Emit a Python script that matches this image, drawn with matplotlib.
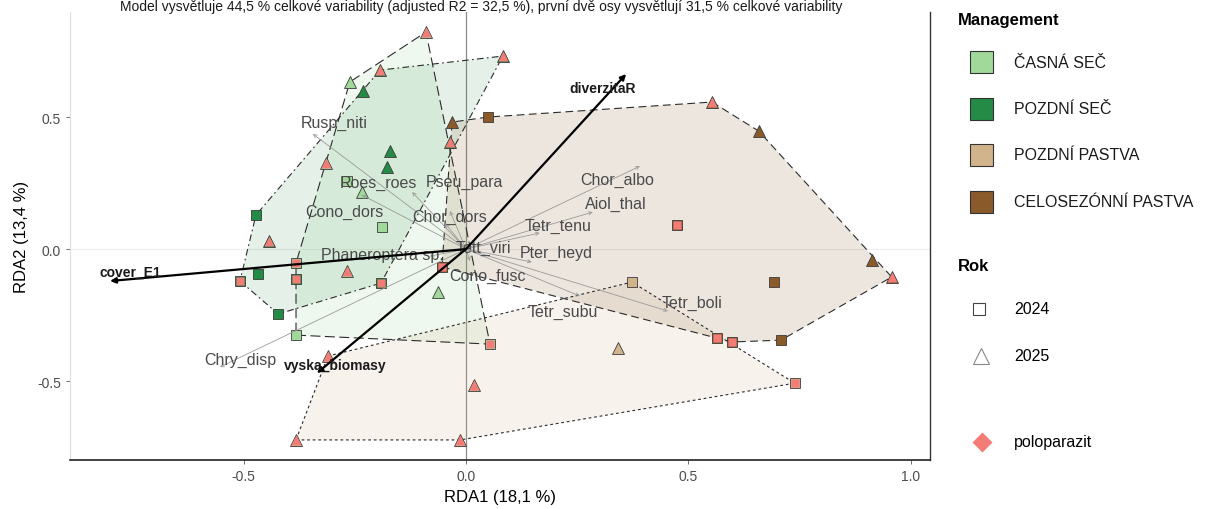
import numpy as np
import matplotlib
matplotlib.use("Agg")
import matplotlib.pyplot as plt
from matplotlib.patches import Polygon, Rectangle

plt.rcParams['font.family'] = ['Liberation Sans', 'DejaVu Sans']

# ---------------- data ----------------
title_text = ("Model vysvětluje 44,5 % celkové variability (adjusted R2 = 32,5 %), "
              "první dvě osy vysvětlují 31,5 % celkové variability")
x_label = "RDA1 (18,1 %)"
y_label = "RDA2 (13,4 %)"

mgmt_levels = ["ČASNÁ SEČ", "POZDNÍ SEČ", "POZDNÍ PASTVA", "CELOSEZÓNNÍ PASTVA"]
mgmt_colors = ["#a1d99b", "#238b45", "#d2b48c", "#8b5a2b"]
rok_levels = ["2024", "2025"]
polo_label = "poloparazit"
polo_color = "#f47c76"

site_x = [-0.090, 0.083, -0.193, -0.261, -0.231, -0.031, 0.049, -0.036, -0.315, -0.171,
          -0.178, -0.267, -0.234, -0.472, -0.189, -0.443, -0.382, -0.267, -0.467, -0.508,
          -0.382, -0.191, -0.054, -0.063, -0.422, -0.382, 0.054, -0.310, 0.018, -0.382,
          -0.013, 0.553, 0.658, 0.474, 0.912, 0.957, 0.692, 0.373, 0.564, 0.598,
          0.708, 0.739, 0.342]
site_y = [0.822, 0.731, 0.678, 0.633, 0.598, 0.481, 0.500, 0.405, 0.326, 0.371,
          0.311, 0.258, 0.216, 0.129, 0.083, 0.030, -0.053, -0.083, -0.095, -0.121,
          -0.114, -0.129, -0.068, -0.163, -0.246, -0.326, -0.360, -0.405, -0.515, -0.723,
          -0.723, 0.557, 0.447, 0.091, -0.042, -0.106, -0.125, -0.125, -0.337, -0.352,
          -0.345, -0.508, -0.375]
site_mgmt = ["ČASNÁ SEČ", "POZDNÍ SEČ", "POZDNÍ SEČ", "ČASNÁ SEČ", "POZDNÍ SEČ",
             "CELOSEZÓNNÍ PASTVA", "CELOSEZÓNNÍ PASTVA", "POZDNÍ SEČ", "ČASNÁ SEČ", "POZDNÍ SEČ",
             "POZDNÍ SEČ", "ČASNÁ SEČ", "ČASNÁ SEČ", "POZDNÍ SEČ", "ČASNÁ SEČ",
             "POZDNÍ SEČ", "ČASNÁ SEČ", "ČASNÁ SEČ", "POZDNÍ SEČ", "POZDNÍ SEČ",
             "POZDNÍ SEČ", "POZDNÍ SEČ", "CELOSEZÓNNÍ PASTVA", "ČASNÁ SEČ", "POZDNÍ SEČ",
             "ČASNÁ SEČ", "ČASNÁ SEČ", "POZDNÍ PASTVA", "POZDNÍ PASTVA", "POZDNÍ PASTVA",
             "POZDNÍ PASTVA", "CELOSEZÓNNÍ PASTVA", "CELOSEZÓNNÍ PASTVA", "CELOSEZÓNNÍ PASTVA",
             "CELOSEZÓNNÍ PASTVA", "CELOSEZÓNNÍ PASTVA", "CELOSEZÓNNÍ PASTVA", "POZDNÍ PASTVA",
             "CELOSEZÓNNÍ PASTVA", "CELOSEZÓNNÍ PASTVA", "CELOSEZÓNNÍ PASTVA", "POZDNÍ PASTVA",
             "POZDNÍ PASTVA"]
site_rok = ["2025", "2025", "2025", "2025", "2025", "2025", "2024", "2025", "2025", "2025",
            "2025", "2024", "2025", "2024", "2024", "2025", "2024", "2025", "2024", "2024",
            "2024", "2024", "2024", "2025", "2024", "2024", "2024", "2025", "2025", "2025",
            "2025", "2025", "2025", "2024", "2025", "2025", "2024", "2024", "2024", "2024",
            "2024", "2024", "2025"]
site_polo = [1, 1, 1, 0, 0, 0, 0, 1, 1, 0,
             0, 0, 0, 0, 0, 1, 1, 1, 0, 1,
             1, 1, 1, 0, 0, 0, 1, 1, 1, 1,
             1, 1, 0, 1, 0, 1, 0, 0, 1, 1,
             0, 1, 0]

species = ["Rusp_niti", "Roes_roes", "Pseu_para", "Cono_dors", "Chor_dors", "Tett_viri",
           "Phaneroptera sp.", "Cono_fusc", "Pter_heyd", "Tetr_tenu", "Aiol_thal",
           "Chor_albo", "Tetr_subu", "Tetr_boli", "Chry_disp"]
sp_x = [-0.344, -0.121, -0.036, -0.234, -0.047, 0.013, -0.081, 0.009, 0.148, 0.166,
        0.285, 0.391, 0.256, 0.454, -0.553]
sp_y = [0.436, 0.216, 0.144, 0.205, 0.098, 0.023, -0.027, -0.045, -0.049, 0.061,
        0.140, 0.314, -0.178, -0.235, -0.447]
sp_lab_x = [-0.297, -0.196, -0.004, -0.274, -0.036, 0.040, -0.189, 0.049, 0.204, 0.207,
            0.337, 0.339, 0.218, 0.508, -0.508]
sp_lab_y = [0.481, 0.254, 0.258, 0.144, 0.125, 0.008, -0.019, -0.098, -0.011, 0.091,
            0.174, 0.265, -0.235, -0.201, -0.417]

env = ["cover_E1", "diverzitaR", "vyska_biomasy"]
env_x = [-0.800, 0.360, -0.335]
env_y = [-0.121, 0.663, -0.470]
env_lab_x = [-0.755, 0.308, -0.294]
env_lab_y = [-0.087, 0.610, -0.439]

hull_styles = {"ČASNÁ SEČ": (0, (9, 4)), "POZDNÍ SEČ": (0, (6, 3, 1.5, 3)),
               "POZDNÍ PASTVA": (0, (2.5, 2.5)), "CELOSEZÓNNÍ PASTVA": (0, (7, 4))}
hull_alpha = {"ČASNÁ SEČ": 0.16, "POZDNÍ SEČ": 0.12,
              "POZDNÍ PASTVA": 0.16, "CELOSEZÓNNÍ PASTVA": 0.15}


def convex_hull(pts):
    pts = sorted(set(map(tuple, pts)))
    if len(pts) < 3:
        return pts

    def cross(o, a, b):
        return (a[0] - o[0]) * (b[1] - o[1]) - (a[1] - o[1]) * (b[0] - o[0])
    lower, upper = [], []
    for p in pts:
        while len(lower) >= 2 and cross(lower[-2], lower[-1], p) <= 0:
            lower.pop()
        lower.append(p)
    for p in reversed(pts):
        while len(upper) >= 2 and cross(upper[-2], upper[-1], p) <= 0:
            upper.pop()
        upper.append(p)
    return lower[:-1] + upper[:-1]


W, H = 1223, 510
fig = plt.figure(figsize=(W / 100, H / 100), dpi=100)
ax = fig.add_axes([70 / W, 49 / H, 860 / W, 448 / H])
ax.set_xlim(-0.890, 1.043)
ax.set_ylim(-0.799, 0.898)

# reference lines
ax.axhline(0, color="#ececec", lw=0.8, zorder=0)
ax.axvline(0, color="#8a8a8a", lw=0.9, zorder=0.5)

sx = np.array(site_x)
sy = np.array(site_y)
smg = np.array(site_mgmt)
srk = np.array(site_rok)
spo = np.array(site_polo)

# hulls
for m, col in zip(mgmt_levels, mgmt_colors):
    sel = smg == m
    hull = convex_hull(np.column_stack([sx[sel], sy[sel]]))
    ax.add_patch(Polygon(hull, closed=True, facecolor=col, alpha=hull_alpha[m],
                         edgecolor="none", zorder=1))
    ax.add_patch(Polygon(hull, closed=True, facecolor="none", edgecolor="#2b2b2b",
                         lw=0.8, linestyle=hull_styles[m], zorder=1.5))

# points
markers = {"2024": "s", "2025": "^"}
msize = {"2024": 7.5, "2025": 9}
for m, col in zip(mgmt_levels, mgmt_colors):
    for r in rok_levels:
        sel = (smg == m) & (srk == r)
        ax.plot(sx[sel], sy[sel], linestyle="none", marker=markers[r], ms=msize[r],
                mfc=col, mec="#3a3a3a", mew=0.6, zorder=3)
for r in rok_levels:
    sel = (spo == 1) & (srk == r)
    ax.plot(sx[sel], sy[sel], linestyle="none", marker=markers[r], ms=msize[r] * 0.85,
            mfc=polo_color, mec="none", zorder=3.2)

# species arrows
for name, x, y, lx, ly in zip(species, sp_x, sp_y, sp_lab_x, sp_lab_y):
    ax.annotate("", xy=(x, y), xytext=(0, 0),
                arrowprops=dict(arrowstyle="->", color="#9a9a9a", lw=0.6,
                                shrinkA=0, shrinkB=0, mutation_scale=6),
                zorder=4)
    ax.text(lx, ly, name, fontsize=11.5, color="#4a4a4a", ha="center", va="center",
            zorder=5)

# environmental arrows
for name, x, y, lx, ly in zip(env, env_x, env_y, env_lab_x, env_lab_y):
    ax.annotate("", xy=(x, y), xytext=(0, 0),
                arrowprops=dict(arrowstyle="-|>", color="black", lw=1.6,
                                shrinkA=0, shrinkB=0, mutation_scale=8),
                zorder=6)
    ax.text(lx, ly, name, fontsize=10, fontweight="bold", color="#1a1a1a",
            ha="center", va="center", zorder=7)

# axes styling
ax.set_xticks([-0.5, 0.0, 0.5, 1.0])
ax.set_xticklabels(["-0.5", "0.0", "0.5", "1.0"])
ax.set_yticks([-0.5, 0.0, 0.5])
ax.set_yticklabels(["-0.5", "0.0", "0.5"])
ax.tick_params(axis="both", colors="#555555", labelsize=10, length=3, width=0.6,
               labelcolor="#4d4d4d")
ax.spines["top"].set_visible(False)
ax.spines["left"].set_color("#dddddd")
ax.spines["left"].set_linewidth(0.8)
ax.spines["bottom"].set_color("#222222")
ax.spines["bottom"].set_linewidth(1.2)
ax.spines["right"].set_color("#333333")
ax.spines["right"].set_linewidth(1.0)
ax.set_xlabel(x_label, fontsize=12, labelpad=4)
ax.set_ylabel(y_label, fontsize=12, labelpad=6)

# title at the very top of the figure
fig.text(120 / W, 1 - 11 / H, title_text, fontsize=10, ha="left", va="baseline",
         color="#1a1a1a")

# legend (drawn in figure pixel coordinates)
lax = fig.add_axes([0, 0, 1, 1])
lax.set_xlim(0, W)
lax.set_ylim(H, 0)
lax.axis("off")
lax.text(958, 20, "Management", fontsize=12, fontweight="bold", va="center", ha="left")
for i, (m, col) in enumerate(zip(mgmt_levels, mgmt_colors)):
    yc = 63 + i * 46.5
    lax.add_patch(Rectangle((970, yc - 11), 23, 22, facecolor=col, edgecolor="#333333",
                            lw=0.8))
    lax.text(1014, yc, m, fontsize=11.5, va="center", ha="left", color="#1a1a1a")
lax.text(958, 267, "Rok", fontsize=12, fontweight="bold", va="center", ha="left")
lax.plot([979], [310], marker="s", ms=9, mfc="white", mec="#444444", mew=0.8)
lax.text(1014, 310, rok_levels[0], fontsize=11.5, va="center", ha="left")
lax.plot([981], [357], marker="^", ms=11, mfc="white", mec="#888888", mew=0.8)
lax.text(1014, 357, rok_levels[1], fontsize=11.5, va="center", ha="left")
lax.plot([982], [443], marker="D", ms=10, mfc=polo_color, mec="none")
lax.text(1014, 443, polo_label, fontsize=11.5, va="center", ha="left")

fig.savefig("out.png", dpi=100)
